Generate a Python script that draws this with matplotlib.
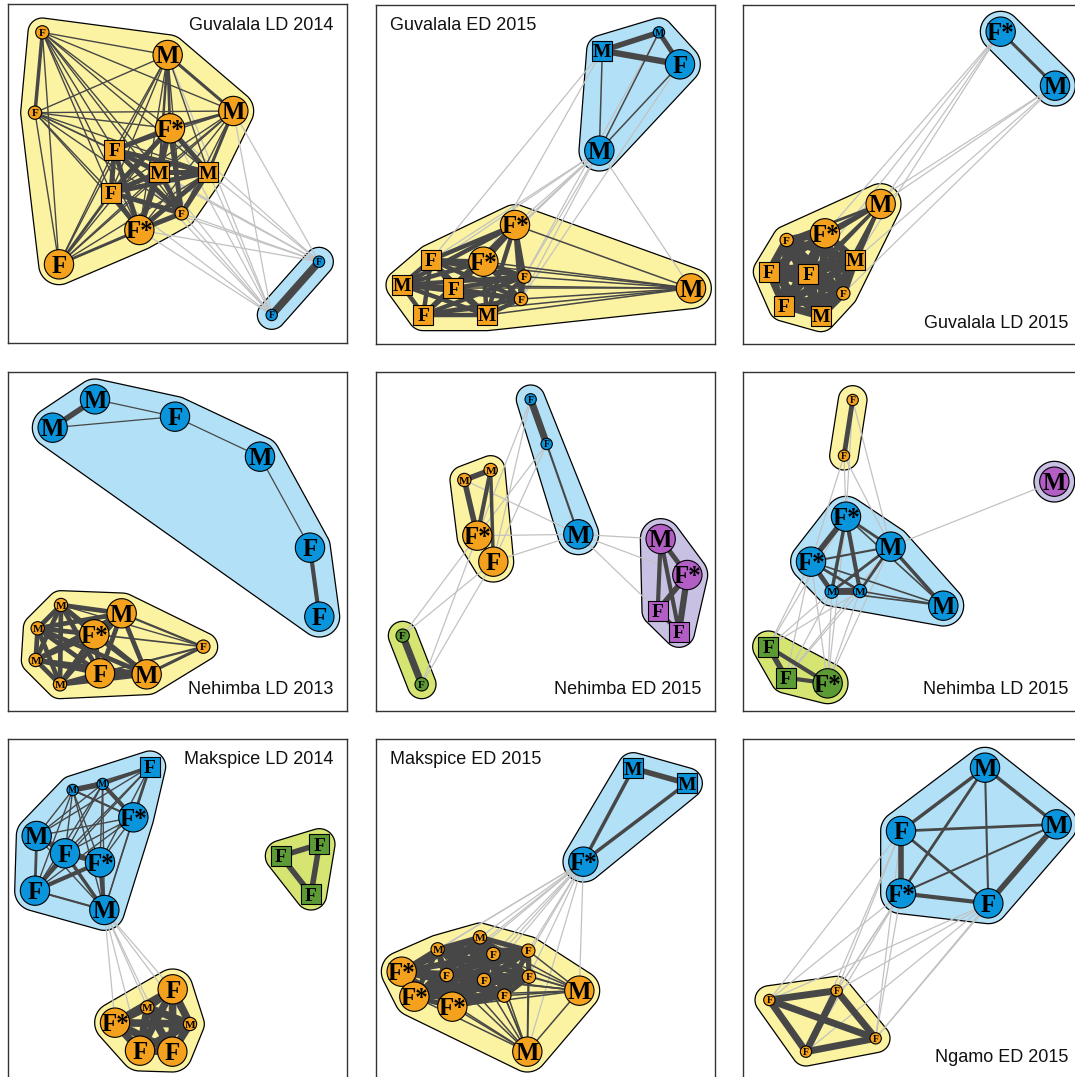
import numpy as np
import matplotlib
matplotlib.use("Agg")
import matplotlib.pyplot as plt
from matplotlib.patches import Circle, Rectangle, Polygon

# ---------------- colours ----------------
NODE_COL = {"o": "#F4A11E", "b": "#0A94DC", "p": "#B35EC4", "g": "#5C9A36"}
HULL_COL = {"o": "#FBF3A1", "b": "#B2E1F7", "p": "#C9C1E4", "g": "#D6E572"}
DARK = "#474747"
LIGHT = "#C2C2C2"
# node size classes (layout units): L/S/T circles radius, Q square half-side
SIZE = {"L": 44, "S": 20, "T": 17, "Q": 30}

# ---------------- data ----------------
titles = ["Guvalala LD 2014", "Guvalala ED 2015", "Guvalala LD 2015",
          "Nehimba LD 2013", "Nehimba ED 2015", "Nehimba LD 2015",
          "Makspice LD 2014", "Makspice ED 2015", "Ngamo ED 2015"]
title_pos = ["tr", "tl", "br", "br", "br", "br", "tr", "tl", "br"]

# Panel 1: Guvalala LD 2014
p1_x = [127, 105, 503, 700, 510, 343, 478, 625, 333, 545, 418, 177, 957, 815]
p1_y = [97, 338, 165, 333, 385, 450, 517, 517, 578, 640, 690, 793, 785, 945]
p1_lab = ["F", "F", "M", "M", "F*", "F", "M", "M", "F", "F", "F*", "F", "F", "F"]
p1_size = ["S", "S", "L", "L", "L", "Q", "Q", "Q", "Q", "S", "L", "L", "T", "T"]
p1_grp = ["o"] * 12 + ["b", "b"]
p1_dense = [(list(range(0, 12)), 1.0), ([4, 5, 6, 7, 8, 9, 10], 3.6)]
p1_dark = [(0, 1, 2.5), (2, 3, 2.2), (2, 4, 2.0), (3, 4, 2.0), (2, 6, 1.8), (3, 7, 2.2),
           (11, 10, 2.0), (11, 8, 2.0), (12, 13, 5.5)]
p1_light = [(12, 3), (12, 4), (12, 6), (12, 7), (12, 9), (12, 10), (12, 8), (12, 5),
            (13, 3), (13, 4), (13, 6), (13, 7), (13, 9), (13, 10), (13, 8), (13, 2), (13, 5)]

# Panel 2: Guvalala ED 2015
p2_x = [712, 882, 945, 703, 450, 355, 198, 110, 265, 175, 365, 478, 468, 978]
p2_y = [152, 97, 193, 452, 675, 785, 780, 855, 865, 945, 945, 830, 897, 865]
p2_lab = ["M", "M", "F", "M", "F*", "F*", "F", "M", "F", "F", "M", "F", "F", "M"]
p2_size = ["Q", "T", "L", "L", "L", "L", "Q", "Q", "Q", "Q", "Q", "S", "S", "L"]
p2_grp = ["b"] * 4 + ["o"] * 10
p2_dense = [(list(range(4, 14)), 1.1), (list(range(4, 13)), 3.2)]
p2_dark = [(0, 1, 4.0), (1, 2, 3.5), (0, 2, 4.5), (3, 0, 1.1), (3, 1, 1.1), (3, 2, 1.1), (4, 5, 4.5)]
p2_light = [(3, 4), (3, 5), (3, 6), (3, 7), (3, 8), (3, 11), (3, 12), (3, 13), (3, 9),
            (0, 6), (1, 11), (2, 12), (0, 5)]

# Panel 3: Guvalala LD 2015
p3_x = [812, 975, 452, 285, 170, 375, 117, 235, 340, 162, 272]
p3_y = [95, 257, 612, 700, 720, 780, 815, 822, 880, 917, 948]
p3_lab = ["F*", "M", "M", "F*", "F", "M", "F", "F", "F", "F", "M"]
p3_size = ["L", "L", "L", "L", "S", "Q", "Q", "Q", "S", "Q", "Q"]
p3_grp = ["b", "b"] + ["o"] * 9
p3_dense = [(list(range(2, 11)), 2.0), (list(range(3, 11)), 5.5)]
p3_dark = [(0, 1, 2.2), (2, 3, 3.0), (2, 5, 3.0)]
p3_light = [(0, 3), (0, 2), (0, 5), (0, 7), (1, 2), (1, 3), (1, 5), (1, 8)]

# Panel 4: Nehimba LD 2013
p4_x = [285, 158, 525, 780, 930, 958, 183, 113, 283, 365, 107, 180, 300, 440, 610]
p4_y = [103, 188, 155, 275, 548, 755, 720, 790, 808, 745, 885, 958, 925, 928, 845]
p4_lab = ["M", "M", "F", "M", "F", "F", "M", "M", "F*", "M", "M", "M", "F", "M", "F"]
p4_size = ["L", "L", "L", "L", "L", "L", "S", "S", "L", "L", "S", "S", "L", "L", "S"]
p4_grp = ["b"] * 6 + ["o"] * 9
p4_dense = [(list(range(6, 14)), 3.4)]
p4_dark = [(0, 1, 4.0), (0, 2, 0.9), (1, 2, 0.9), (2, 3, 0.9), (3, 4, 0.9), (4, 5, 3.0),
           (14, 8, 1.2), (14, 9, 1.6), (14, 12, 1.6), (14, 13, 2.2), (14, 6, 1.0), (9, 13, 2.5)]
p4_light = []

# Panel 5: Nehimba ED 2015
p5_x = [497, 545, 640, 298, 377, 337, 385, 887, 967, 878, 942, 113, 170]
p5_y = [103, 237, 508, 345, 315, 512, 590, 522, 630, 737, 800, 812, 958]
p5_lab = ["F", "F", "M", "M", "M", "F*", "F", "M", "F*", "F", "F", "F", "F"]
p5_size = ["T", "T", "L", "S", "S", "L", "L", "L", "L", "Q", "Q", "S", "S"]
p5_grp = ["b", "b", "b", "o", "o", "o", "o", "p", "p", "p", "p", "g", "g"]
p5_dense = []
p5_dark = [(0, 1, 5.0), (1, 2, 1.5), (3, 4, 4.0), (3, 5, 4.0), (4, 5, 3.0), (4, 6, 2.5), (5, 6, 2.0),
           (7, 9, 3.0), (7, 10, 3.0), (7, 8, 3.5), (8, 9, 4.0), (8, 10, 4.5), (9, 10, 3.0), (11, 12, 5.0)]
p5_light = [(2, 3), (2, 5), (2, 6), (2, 7), (2, 8), (2, 9), (0, 5), (0, 6), (1, 5), (1, 6),
            (11, 5), (11, 6), (12, 5), (12, 6)]

# Panel 6: Nehimba LD 2015
p6_x = [368, 342, 973, 348, 482, 243, 305, 390, 640, 115, 168, 293]
p6_y = [105, 272, 350, 455, 545, 590, 680, 678, 722, 845, 938, 955]
p6_lab = ["F", "F", "M", "F*", "M", "F*", "M", "M", "M", "F", "F", "F*"]
p6_size = ["T", "T", "L", "L", "L", "L", "S", "S", "L", "Q", "Q", "L"]
p6_grp = ["o", "o", "p", "b", "b", "b", "b", "b", "b", "g", "g", "g"]
p6_dense = []
p6_dark = [(0, 1, 3.5), (3, 4, 2.0), (3, 5, 4.0), (3, 6, 2.5), (3, 7, 3.0), (3, 8, 1.2), (4, 5, 1.5),
           (4, 6, 2.0), (4, 7, 2.0), (4, 8, 2.5), (5, 6, 3.5), (5, 7, 2.0), (5, 8, 1.2), (6, 7, 5.0),
           (6, 8, 1.2), (7, 8, 1.2), (9, 10, 4.0), (9, 11, 3.0), (10, 11, 3.0)]
p6_light = [(2, 4), (0, 3), (1, 3), (1, 5), (0, 4), (1, 4), (5, 9), (5, 10), (5, 11), (6, 9),
            (6, 10), (6, 11), (7, 9), (7, 10), (7, 11), (3, 11), (4, 10), (4, 11), (3, 9)]

# Panel 7: Makspice LD 2014
p7_x = [450, 218, 308, 400, 110, 195, 300, 105, 313, 843, 958, 933, 518, 442, 345, 570, 420, 517]
p7_y = [110, 180, 162, 262, 318, 370, 397, 482, 540, 378, 343, 493, 778, 832, 878, 882, 962, 965]
p7_lab = ["F", "M", "M", "F*", "M", "F", "F*", "F", "M", "F", "F", "F", "F", "M", "F*", "M", "F", "F"]
p7_size = ["Q", "T", "T", "L", "L", "L", "L", "L", "L", "Q", "Q", "Q", "L", "S", "L", "S", "L", "L"]
p7_grp = ["b"] * 9 + ["g"] * 3 + ["o"] * 6
p7_dense = [(list(range(0, 9)), 1.0), (list(range(12, 18)), 5.5)]
p7_dark = [(1, 2, 4.0), (2, 0, 2.5), (2, 3, 3.0), (1, 3, 1.5), (0, 3, 2.0), (4, 5, 3.0), (5, 6, 3.5),
           (5, 7, 3.0), (7, 6, 3.0), (6, 8, 3.0), (5, 8, 2.5), (4, 7, 2.0), (7, 8, 1.5),
           (9, 10, 4.0), (10, 11, 4.0), (9, 11, 4.0)]
p7_light = [(8, 12), (8, 13), (8, 14), (8, 15), (8, 16), (8, 17)]

# Panel 8: Makspice ED 2015
p8_x = [805, 965, 655, 345, 218, 385, 490, 110, 245, 357, 492, 643, 148, 262, 418, 487]
p8_y = [115, 160, 395, 622, 658, 672, 662, 725, 735, 750, 740, 782, 800, 830, 797, 965]
p8_lab = ["M", "M", "F*", "M", "M", "F", "F", "F*", "F", "F", "F", "M", "F*", "F*", "F", "M"]
p8_size = ["Q", "Q", "L", "S", "S", "S", "S", "L", "S", "S", "S", "L", "L", "L", "S", "L"]
p8_grp = ["b", "b", "b"] + ["o"] * 13
p8_dense = [(list(range(3, 16)), 1.1), ([3, 4, 5, 6, 7, 8, 9, 10, 12, 13, 14], 3.8)]
p8_dark = [(0, 1, 4.0), (2, 0, 2.5), (2, 1, 2.5)]
p8_light = [(2, 3), (2, 4), (2, 5), (2, 6), (2, 7), (2, 8), (2, 9), (2, 10), (2, 11),
            (2, 12), (2, 13), (2, 14), (2, 15)]

# Panel 9: Ngamo ED 2015
p9_x = [765, 513, 980, 513, 775, 118, 320, 228, 437]
p9_y = [113, 303, 283, 490, 520, 810, 782, 965, 925]
p9_lab = ["M", "F", "M", "F*", "F", "F", "F", "F", "F"]
p9_size = ["L", "L", "L", "L", "L", "T", "T", "T", "T"]
p9_grp = ["b"] * 5 + ["o"] * 4
p9_dense = [([5, 6, 7, 8], 5.0)]
p9_dark = [(0, 1, 2.5), (0, 2, 2.5), (0, 3, 2.0), (0, 4, 1.5), (1, 2, 2.0), (1, 3, 4.0), (1, 4, 2.0),
           (2, 3, 1.5), (2, 4, 4.0), (3, 4, 3.0)]
p9_light = [(1, 5), (1, 6), (1, 7), (1, 8), (3, 5), (3, 6), (3, 7), (3, 8), (4, 5), (4, 6),
            (4, 7), (4, 8), (0, 6), (2, 8)]

panels = [
    (p1_x, p1_y, p1_lab, p1_size, p1_grp, p1_dense, p1_dark, p1_light),
    (p2_x, p2_y, p2_lab, p2_size, p2_grp, p2_dense, p2_dark, p2_light),
    (p3_x, p3_y, p3_lab, p3_size, p3_grp, p3_dense, p3_dark, p3_light),
    (p4_x, p4_y, p4_lab, p4_size, p4_grp, p4_dense, p4_dark, p4_light),
    (p5_x, p5_y, p5_lab, p5_size, p5_grp, p5_dense, p5_dark, p5_light),
    (p6_x, p6_y, p6_lab, p6_size, p6_grp, p6_dense, p6_dark, p6_light),
    (p7_x, p7_y, p7_lab, p7_size, p7_grp, p7_dense, p7_dark, p7_light),
    (p8_x, p8_y, p8_lab, p8_size, p8_grp, p8_dense, p8_dark, p8_light),
    (p9_x, p9_y, p9_lab, p9_size, p9_grp, p9_dense, p9_dark, p9_light),
]

# ---------------- layout ----------------
W, H = 1075, 1077
PS = 339  # panel size px
PANEL_ORIGIN = [(8, 4), (376, 5), (743, 5), (8, 372), (376, 372), (743, 372),
                (8, 739), (376, 739), (743, 739)]
LAYOUT_ORIGIN = [(0, 0), (365, 0), (730, 0), (0, 365), (365, 365), (730, 365),
                 (0, 730), (365, 730), (730, 730)]
SCALE = 3.0  # layout units per pixel


def convex_hull(points):
    pts = sorted(set((round(p[0], 4), round(p[1], 4)) for p in points))
    if len(pts) < 3:
        return np.array(pts)

    def cross(o, a, b):
        return (a[0] - o[0]) * (b[1] - o[1]) - (a[1] - o[1]) * (b[0] - o[0])
    lower, upper = [], []
    for p in pts:
        while len(lower) >= 2 and cross(lower[-2], lower[-1], p) <= 0:
            lower.pop()
        lower.append(p)
    for p in reversed(pts):
        while len(upper) >= 2 and cross(upper[-2], upper[-1], p) <= 0:
            upper.pop()
        upper.append(p)
    return np.array(lower[:-1] + upper[:-1])


def rounded_hull(xs, ys, rs):
    ang = np.linspace(0, 2 * np.pi, 90, endpoint=False)
    pts = []
    for x, y, r in zip(xs, ys, rs):
        rr = max(r + 17, 43)
        for a in ang:
            pts.append((x + rr * np.cos(a), y + rr * np.sin(a)))
    h = convex_hull(pts)
    for _ in range(2):
        n = len(h)
        new = []
        for i in range(n):
            p, q = h[i], h[(i + 1) % n]
            new.append(0.75 * p + 0.25 * q)
            new.append(0.25 * p + 0.75 * q)
        h = np.array(new)
    return h


fig = plt.figure(figsize=(W / 100, H / 100), dpi=100)

for k, (xs, ys, labs, sizes, grps, dense, dark, light) in enumerate(panels):
    px, py = PANEL_ORIGIN[k]
    lx, ly = LAYOUT_ORIGIN[k]
    ax = fig.add_axes([px / W, 1 - (py + PS) / H, PS / W, PS / H])
    ax.set_xlim((px - lx) * SCALE, (px + PS - lx) * SCALE)
    ax.set_ylim((py + PS - ly) * SCALE, (py - ly) * SCALE)
    ax.set_xticks([])
    ax.set_yticks([])
    for s in ax.spines.values():
        s.set_color("#333333")
        s.set_linewidth(1.0)

    xs = np.array(xs, float)
    ys = np.array(ys, float)
    rs = np.array([SIZE[s] for s in sizes], float)

    # group hulls
    for g in dict.fromkeys(grps):
        idx = [i for i, gg in enumerate(grps) if gg == g]
        hp = rounded_hull(xs[idx], ys[idx], rs[idx])
        ax.add_patch(Polygon(hp, closed=True, facecolor=HULL_COL[g],
                             edgecolor="black", lw=0.9, zorder=1))

    # light between-group edges
    for i, j in light:
        ax.plot([xs[i], xs[j]], [ys[i], ys[j]], color=LIGHT, lw=0.9, zorder=2,
                solid_capstyle="butt")

    # dark within-group edges
    for members, w in dense:
        for a in range(len(members)):
            for b in range(a + 1, len(members)):
                i, j = members[a], members[b]
                ax.plot([xs[i], xs[j]], [ys[i], ys[j]], color=DARK, lw=w, zorder=3,
                        solid_capstyle="butt")
    for i, j, w in dark:
        ax.plot([xs[i], xs[j]], [ys[i], ys[j]], color=DARK, lw=w, zorder=3,
                solid_capstyle="butt")

    # nodes
    for x, y, lab, s, g in zip(xs, ys, labs, sizes, grps):
        r = SIZE[s]
        if s == "Q":
            ax.add_patch(Rectangle((x - r, y - r), 2 * r, 2 * r, facecolor=NODE_COL[g],
                                   edgecolor="black", lw=0.8, zorder=4))
            fs = r / SCALE * 1.4
        else:
            ax.add_patch(Circle((x, y), r, facecolor=NODE_COL[g], edgecolor="black",
                                lw=0.8, zorder=4))
            fs = r / SCALE * 1.22
        off = 0.33 * fs * 1.389 * SCALE
        ax.text(x, y + off, lab, ha="center", va="baseline", fontsize=fs,
                family="Liberation Serif", weight="bold", color="black", zorder=5)

    # title
    pos = title_pos[k]
    if pos == "tr":
        tx, ty, ha = 325 / PS, 1 - 21 / PS, "right"
    elif pos == "tl":
        tx, ty, ha = 14 / PS, 1 - 21 / PS, "left"
    else:
        tx, ty, ha = 325 / PS, 1 - 318 / PS, "right"
    ax.text(tx, ty, titles[k], transform=ax.transAxes, ha=ha, va="center",
            fontsize=13, family="Liberation Sans", color="#111111", zorder=6)

fig.savefig("out.png", dpi=100)
